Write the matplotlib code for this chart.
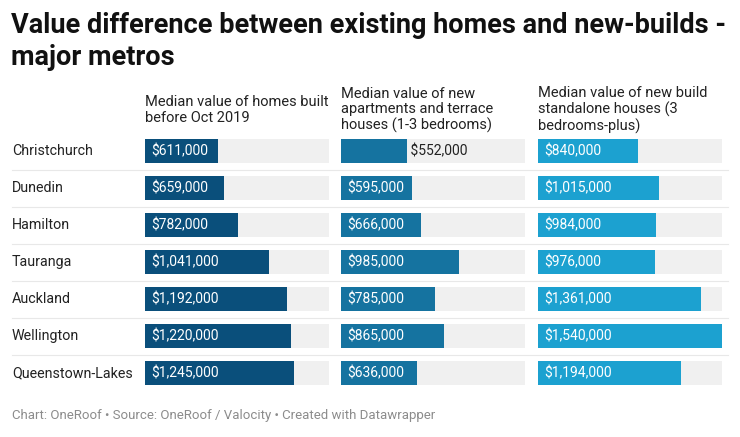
import matplotlib
matplotlib.use("Agg")
import matplotlib.pyplot as plt
from matplotlib.lines import Line2D

plt.rcParams["font.family"] = ["Roboto", "DejaVu Sans"]

# data
cities = ["Christchurch", "Dunedin", "Hamilton", "Tauranga", "Auckland",
          "Wellington", "Queenstown-Lakes"]
existing = [611000, 659000, 782000, 1041000, 1192000, 1220000, 1245000]
apartments = [552000, 595000, 666000, 985000, 785000, 865000, 636000]
standalone = [840000, 1015000, 984000, 976000, 1361000, 1540000, 1194000]
headers = ["Median value of homes built\nbefore Oct 2019",
           "Median value of new\napartments and terrace\nhouses (1-3 bedrooms)",
           "Median value of new build\nstandalone houses (3\nbedrooms-plus)"]
colors = ["#0a4f7b", "#1573a0", "#1ca1d0"]

W, H = 740, 437
fig = plt.figure(figsize=(W / 100, H / 100), dpi=100)
fig.patch.set_facecolor("white")


def fx(px):
    return px / W


def fy(py):
    return 1 - py / H


# title
fig.text(fx(11), fy(12), "Value difference between existing homes and new-builds -\nmajor metros",
         fontsize=19.5, fontweight="bold", color="#111111", va="top", ha="left",
         linespacing=1.22)

col_left = [145, 341, 538]
col_w = 184
row0, step = 151, 37
top = row0 - step / 2
bottom = row0 + step * (len(cities) - 0.5)
vmax = max(existing + apartments + standalone)

series = [existing, apartments, standalone]
fig.canvas.draw()
renderer = fig.canvas.get_renderer()

for i, vals in enumerate(series):
    ax = fig.add_axes([fx(col_left[i]), fy(bottom), fx(col_w), (bottom - top) / H])
    y = range(len(cities))
    ax.barh(y, [vmax] * len(cities), height=0.65, color="#f0f0f0")
    ax.barh(y, vals, height=0.65, color=colors[i])
    ax.set_xlim(0, vmax)
    ax.set_ylim(len(cities) - 0.5, -0.5)
    ax.axis("off")
    fig.text(fx(col_left[i]), fy(110), headers[i], fontsize=10.5, color="#222222",
             va="center", ha="left", linespacing=1.15)
    for j, v in enumerate(vals):
        label = f"${v:,.0f}"
        t = ax.text(0, j, label, fontsize=10, va="center", ha="left")
        tw = t.get_window_extent(renderer).width
        bar_px = v / vmax * col_w
        if tw + 12 > bar_px:
            t.set_x(v)
            t.set_text(" " + label)
            t.set_color("#222222")
        else:
            t.set_x(vmax * 6 / col_w)
            t.set_color("white")

for j, c in enumerate(cities):
    yc = row0 + j * step
    fig.text(fx(12), fy(yc), c, fontsize=10.3, color="#222222", va="center", ha="left")
    if j < len(cities) - 1:
        fig.add_artist(Line2D([fx(12), fx(728)], [fy(yc + step / 2)] * 2,
                              color="#e8e8e8", lw=0.8, transform=fig.transFigure))

fig.text(fx(12), fy(415),
         "Chart: OneRoof \u2022 Source: OneRoof / Valocity \u2022 Created with Datawrapper",
         fontsize=9.5, color="#8c8c8c", va="center", ha="left")

fig.savefig("out.png", dpi=100, facecolor="white")
